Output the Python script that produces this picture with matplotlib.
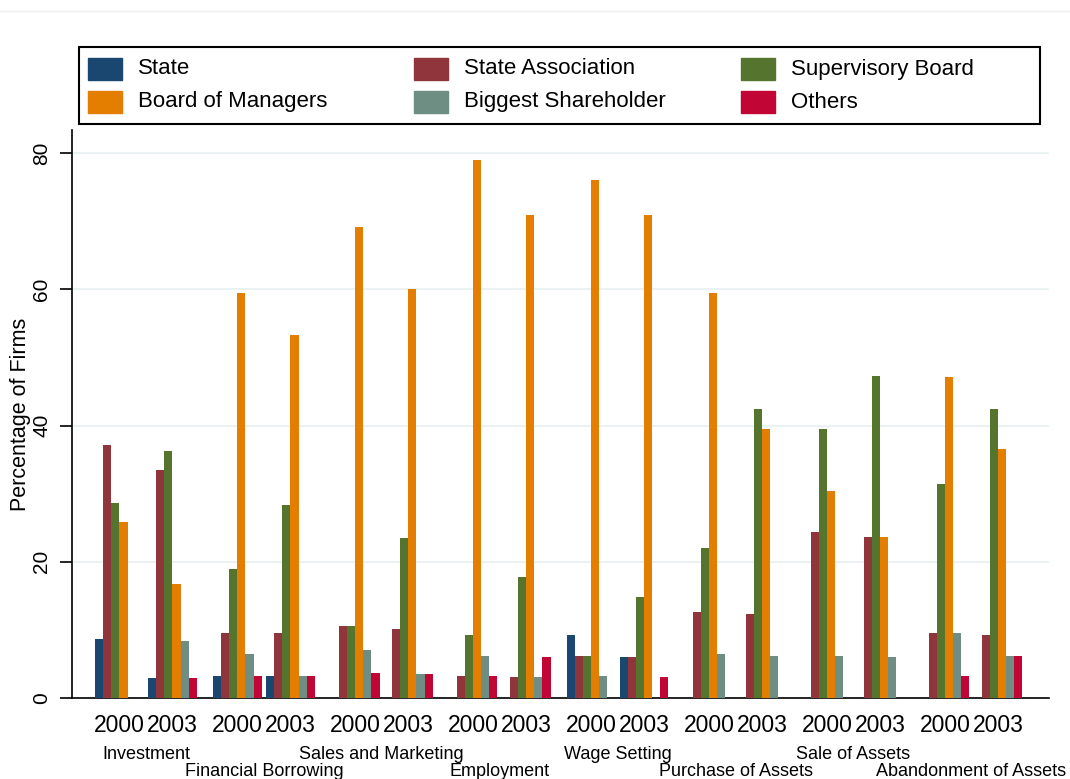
import matplotlib.pyplot as plt
import matplotlib.lines as mlines
import matplotlib.patches as mpatches
from matplotlib import font_manager
import numpy as np

# font: narrow Arial-like if available
names = {f.name for f in font_manager.fontManager.ttflist}
fam = 'Liberation Sans Narrow' if 'Liberation Sans Narrow' in names else 'Liberation Sans'
plt.rcParams['font.family'] = [fam, 'DejaVu Sans']

categories = ["Investment", "Financial Borrowing", "Sales and Marketing", "Employment",
              "Wage Setting", "Purchase of Assets", "Sale of Assets", "Abandonment of Assets"]
years = ["2000", "2003"]
series = ["State", "State Association", "Supervisory Board",
          "Board of Managers", "Biggest Shareholder", "Others"]
colors = ["#1a476f", "#90353b", "#55752f", "#e37e00", "#6e8e84", "#c10534"]

# values per (category, year), order of series; 0 = not reported
state = [8.6, 2.9, 3.3, 3.3, 0, 0, 0, 0, 9.2, 6.0, 0, 0, 0, 0, 0, 0]
state_assoc = [37.2, 33.5, 9.5, 9.5, 10.5, 10.1, 3.2, 3.1, 6.2, 6.0, 12.6, 12.3, 24.4, 23.6, 9.5, 9.2]
superv = [28.6, 36.3, 18.9, 28.3, 10.5, 23.5, 9.2, 17.7, 6.2, 14.8, 22.0, 42.5, 39.5, 47.3, 31.4, 42.5]
managers = [25.8, 16.7, 59.5, 53.3, 69.1, 60.0, 79.0, 70.9, 76.0, 70.9, 59.5, 39.5, 30.4, 23.6, 47.1, 36.5]
shareholder = [0, 8.4, 6.4, 3.3, 7.0, 3.5, 6.2, 3.1, 3.2, 0, 6.4, 6.2, 6.2, 6.0, 9.5, 6.2]
others = [0, 2.9, 3.3, 3.3, 3.6, 3.5, 3.2, 6.0, 0, 3.1, 0, 0, 0, 0, 3.3, 6.2]
values = [state, state_assoc, superv, managers, shareholder, others]

W, H = 1070, 779
fig = plt.figure(figsize=(W/100, H/100), dpi=100)
ax = fig.add_axes([72/W, 81/H, 977/W, 568/H])

# layout: bar width 1, year step 6.55, category step 14.55
w = 1.0
year_step = 6.55
cat_step = 14.55
for s in range(len(series)):
    xs, hs = [], []
    for c in range(len(categories)):
        for y in range(len(years)):
            v = values[s][c*2 + y]
            if v > 0:
                xs.append(c*cat_step + y*year_step + s*w)
                hs.append(v)
    ax.bar(xs, hs, width=w, align='edge', color=colors[s], linewidth=0, zorder=3)

ax.set_xlim(-2.85, (len(categories)-1)*cat_step + year_step + 6 + 3.3)
ax.set_ylim(0, 83.4)
ax.set_yticks([0, 20, 40, 60, 80])
ax.set_yticklabels(["0", "20", "40", "60", "80"], rotation=90, va='center', fontsize=15)
ax.yaxis.grid(True, color='#eaf2f3', linewidth=1.5, zorder=0)
ax.set_xticks([])
for sp in ['top', 'right']:
    ax.spines[sp].set_visible(False)
ax.spines['left'].set_linewidth(1.2)
ax.spines['bottom'].set_linewidth(1.2)
ax.tick_params(axis='y', length=9, width=1.2, pad=6)
ax.set_ylabel("Percentage of Firms", fontsize=15.5, labelpad=0)
ax.yaxis.set_label_coords(-41/977, 0.5)

# year labels and category labels
for c in range(len(categories)):
    for y in range(len(years)):
        xc = c*cat_step + y*year_step + 3
        ax.text(xc, -2.3, years[y], ha='center', va='top', fontsize=16.5)
    cc = c*cat_step + (year_step + 6) / 2
    yy = -7.0 if c % 2 == 0 else -9.6
    ax.text(cc, yy, categories[c], ha='center', va='top', fontsize=13)

# legend box drawn in figure pixels, filled row-wise (3 columns)
fig.add_artist(mpatches.Rectangle((79/W, 1-124/H), 961/W, 77/H, transform=fig.transFigure,
                                  fill=False, edgecolor='black', linewidth=1.5))
col_x = [88, 414, 741]
row_y = [69, 102]
for i, name in enumerate(series):
    r, c = divmod(i, 3)
    x0, yc = col_x[c], row_y[r]
    fig.add_artist(mpatches.Rectangle((x0/W, 1-(yc+11)/H), 34/W, 22/H,
                                      transform=fig.transFigure, color=colors[i]))
    fig.text((x0+50)/W, 1-yc/H, name, ha='left', va='center', fontsize=16)

# faint line at top
fig.add_artist(mlines.Line2D([0, 1], [1-11/H, 1-11/H], color='#eeeeee', linewidth=1))

plt.savefig('out.png', dpi=100)
